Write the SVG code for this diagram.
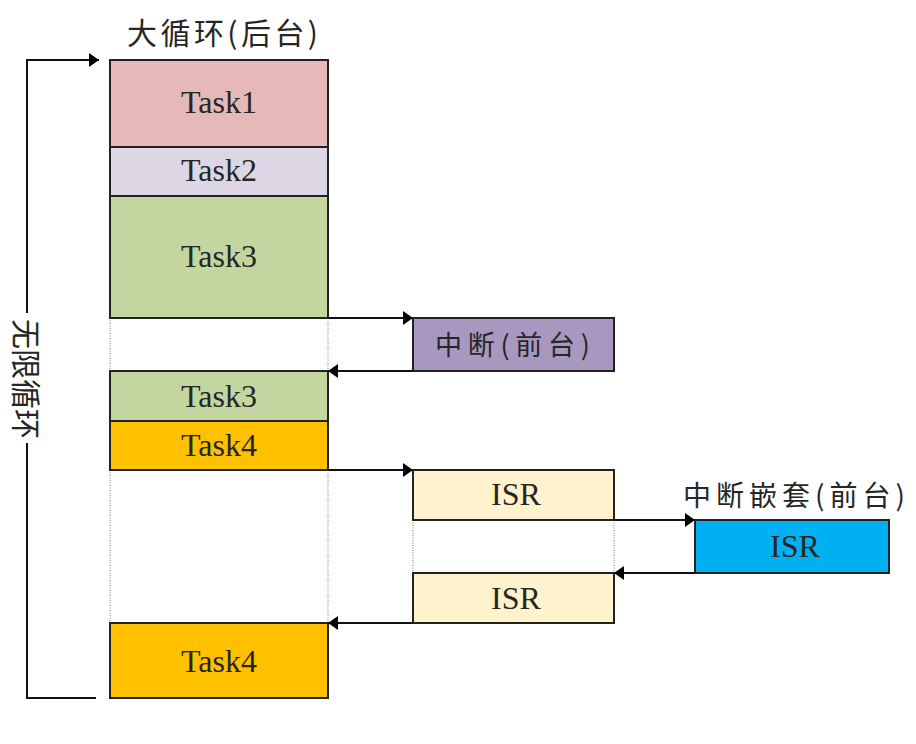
<svg xmlns="http://www.w3.org/2000/svg" width="916" height="744" viewBox="0 0 916 744">
  <defs>
    <marker id="arrow" markerWidth="10" markerHeight="14" refX="10" refY="7" orient="auto" markerUnits="userSpaceOnUse">
      <path d="M0,0 L10,7 L0,14 Z" fill="#000"/>
    </marker>
    <style>
      .box { stroke: #222; stroke-width: 2; }
      .lbl { font-family: "Liberation Serif", "Noto Sans CJK SC", serif; font-size: 32px; fill: #262626; text-anchor: middle; dominant-baseline: central; }
      .cjk { font-family: "Noto Sans CJK SC", sans-serif; fill: #262626; }
      .dot { stroke: #777; stroke-width: 1; stroke-dasharray: 1 1.5; fill: none; }
      .conn { stroke: #111; stroke-width: 2; fill: none; }
    </style>
  </defs>
  <rect width="916" height="744" fill="#fff"/>

  <!-- titles -->
  <text class="cjk" x="127" y="31" font-size="30" dominant-baseline="central" textLength="191" lengthAdjust="spacing">大循环(后台)</text>
  <text class="cjk" x="683" y="494" font-size="28" dominant-baseline="central" textLength="222" lengthAdjust="spacing">中断嵌套(前台)</text>

  <!-- dotted sides of idle gaps -->
  <g id="gaps">
    <line class="dot" x1="110" y1="318" x2="110" y2="371"/>
    <line class="dot" x1="328" y1="318" x2="328" y2="371"/>
    <line class="dot" x1="110" y1="470" x2="110" y2="623"/>
    <line class="dot" x1="328" y1="470" x2="328" y2="623"/>
    <line class="dot" x1="413" y1="520" x2="413" y2="573"/>
    <line class="dot" x1="614" y1="520" x2="614" y2="573"/>
  </g>

  <g id="task1">
    <rect class="box" x="110" y="60" width="218" height="87" fill="#E6B8B7"/>
    <text class="lbl" x="219" y="102">Task1</text>
  </g>
  <g id="task2">
    <rect class="box" x="110" y="147" width="218" height="49" fill="#DDD7E5"/>
    <text class="lbl" x="219" y="170">Task2</text>
  </g>
  <g id="task3a">
    <rect class="box" x="110" y="196" width="218" height="122" fill="#C4D69F"/>
    <text class="lbl" x="219" y="256">Task3</text>
  </g>
  <g id="task3b">
    <rect class="box" x="110" y="371" width="218" height="50" fill="#C4D69F"/>
    <text class="lbl" x="219" y="396">Task3</text>
  </g>
  <g id="task4a">
    <rect class="box" x="110" y="421" width="218" height="49" fill="#FFC000"/>
    <text class="lbl" x="219" y="445">Task4</text>
  </g>
  <g id="task4b">
    <rect class="box" x="110" y="623" width="218" height="75" fill="#FFC000"/>
    <text class="lbl" x="219" y="661">Task4</text>
  </g>
  <g id="irq">
    <rect class="box" x="413" y="318" width="201" height="53" fill="#A898C0"/>
    <text class="cjk" x="435" y="343" font-size="27" dominant-baseline="central" textLength="155" lengthAdjust="spacing">中断(前台)</text>
  </g>
  <g id="isr1">
    <rect class="box" x="413" y="470" width="201" height="50" fill="#FFF2CC"/>
    <text class="lbl" x="516" y="494">ISR</text>
  </g>
  <g id="isr2">
    <rect class="box" x="413" y="573" width="201" height="50" fill="#FFF2CC"/>
    <text class="lbl" x="516" y="598">ISR</text>
  </g>
  <g id="isr-nested">
    <rect class="box" x="695" y="520" width="194" height="53" fill="#00B0F0"/>
    <text class="lbl" x="795" y="546">ISR</text>
  </g>

  <!-- loop bracket -->
  <g id="loop">
    <polyline class="conn" points="27,313 27,60 99,60" marker-end="url(#arrow)"/>
    <polyline class="conn" points="27,443 27,698 96,698"/>
    <text class="cjk" font-size="30" text-anchor="middle" dominant-baseline="central" transform="translate(28,379) rotate(90)">无限循环</text>
  </g>

  <!-- connectors -->
  <g id="connectors">
    <line class="conn" x1="328" y1="318" x2="413" y2="318" marker-end="url(#arrow)"/>
    <line class="conn" x1="413" y1="371" x2="328" y2="371" marker-end="url(#arrow)"/>
    <line class="conn" x1="328" y1="470" x2="413" y2="470" marker-end="url(#arrow)"/>
    <line class="conn" x1="614" y1="520" x2="695" y2="520" marker-end="url(#arrow)"/>
    <line class="conn" x1="695" y1="573" x2="614" y2="573" marker-end="url(#arrow)"/>
    <line class="conn" x1="413" y1="623" x2="328" y2="623" marker-end="url(#arrow)"/>
  </g>
</svg>
